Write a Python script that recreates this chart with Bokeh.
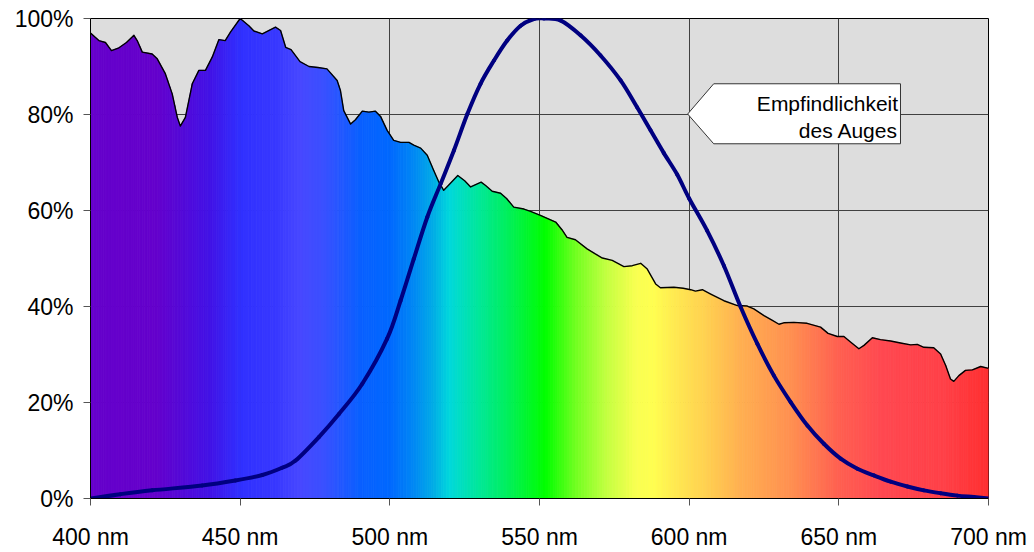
import numpy as np
from bokeh.plotting import figure
from bokeh.models import Range1d, FixedTicker, ColumnDataSource
from bokeh.core.properties import value
from bokeh.embed import file_html
from bokeh.resources import INLINE

# ---------------- data ----------------
spec_nm = [400, 402.8, 405, 407, 409.5, 412, 414.5, 415.6, 417.3, 420.6, 422.3, 425, 427.3,
           429, 430, 431.7, 434, 436.2, 438.4, 440.7, 442.9, 445, 446.8, 450, 452.9, 454.6,
           457.4, 461.8, 463.5, 465.2, 467, 470, 473, 476, 479, 482.4, 483.5, 484.6, 486.9,
           488.5, 490.8, 493, 495.2, 496.9, 499.1, 501.3, 503.6, 506.4, 508, 510.3, 512.5,
           514.7, 516.4, 518, 520, 522.7, 525, 527, 530.5, 532, 534.2, 537, 539, 541.4,
           544.8, 547, 550.3, 555.4, 557.5, 559.2, 562, 565.9, 568.5, 571, 574.3, 578.2,
           581, 583.8, 586, 588.8, 590.4, 594.9, 598, 600.5, 602.1, 604.4, 607.2, 611.6,
           616.1, 619.4, 621.6, 625, 627.8, 630, 631.6, 635, 639.4, 643.9, 646.4, 649.5,
           651.7, 653.9, 656.7, 658.4, 661.2, 663.9, 667.3, 670.6, 674, 676.2, 678.4, 681.7,
           684, 685.7, 687.3, 688.4, 690.1, 692.3, 694.6, 697.4, 700]
spec_pct = [97.0, 95.4, 95.0, 93.3, 93.9, 95.0, 96.5, 95.4, 93.0, 92.6, 91.6, 88.5, 84.3,
            79.4, 77.6, 79.4, 86.4, 89.2, 89.2, 92.0, 95.6, 95.4, 97.2, 100.0, 98.5, 97.4,
            96.8, 98.2, 97.5, 94.0, 93.5, 91.0, 90.0, 89.8, 89.5, 87.1, 85.0, 80.8, 78.0,
            78.9, 80.7, 80.5, 80.7, 79.6, 76.7, 74.6, 74.2, 74.2, 73.6, 73.0, 71.5,
            68.3, 65.9, 64.2, 65.5, 67.3, 66.2, 64.9, 65.9, 65.2, 64.0, 63.6, 62.5, 60.7,
            60.3, 59.8, 59.0, 57.6, 56.0, 54.4, 53.9, 52.0, 51.0, 50.1, 49.6, 48.3,
            48.5, 49.0, 47.8, 44.7, 43.9, 44.0, 43.8, 43.5, 43.2, 43.5, 42.6, 41.2,
            40.2, 40.1, 39.5, 38.1, 37.1, 36.3, 36.6, 36.7, 36.5, 35.7, 34.4, 33.75,
            33.75, 32.6, 31.2, 31.9, 33.5, 33.1, 32.8, 32.4, 32.0, 32.1, 31.5, 31.4,
            30.1, 27.7, 24.9, 24.4, 25.6, 26.7, 26.8, 27.5, 27.1]

eye_nm = [400, 410, 420.6, 437.3, 448.4, 457.4, 464, 468.5, 476.3, 483, 490.8, 499.1, 503.6,
          508, 512.5, 517, 521.4, 525.9, 530.3, 534.8, 539.2, 543.7, 548.1, 551.5, 557,
          563.7, 570.4, 577.1, 582.6, 587.1, 591.5, 596, 600, 606, 611.6, 617.2, 622.8,
          628.3, 633.9, 639.5, 645, 650.6, 656.2, 661.7, 667.3, 672.9, 678.4, 684, 689.6,
          695.1, 700]
eye_pct = [0, 0.9, 1.7, 2.7, 3.75, 4.9, 6.4, 7.9, 12.8, 17.6, 23.9, 33.3, 41.25,
           49.9, 58.6, 65.6, 72.5, 80.1, 86.4, 91.25, 95.4, 98.5, 99.9, 100, 99.6,
           96.5, 92.3, 87.1, 81.5, 76.7, 72.0, 67.5, 62.5, 55.8, 48.5, 39.9, 32.2,
           25.6, 20.1, 15.2, 11.4, 8.3, 6.2, 4.8, 3.5, 2.5, 1.7, 1.1, 0.6,
           0.3, 0]

x_ticks = [400, 450, 500, 550, 600, 650, 700]
x_tick_labels = ["400 nm", "450 nm", "500 nm", "550 nm", "600 nm", "650 nm", "700 nm"]
y_ticks = [0, 20, 40, 60, 80, 100]
y_tick_labels = ["0%", "20%", "40%", "60%", "80%", "100%"]

label_lines = ["Empfindlichkeit", "des Auges"]

# colour stops of the spectrum (wavelength -> colour)
stop_nm = [400, 422, 440, 450, 462, 470, 478, 490, 500, 508, 514, 520, 530, 540, 552,
           562, 572, 582, 588, 596, 606, 617, 634, 650, 665, 685, 700]
stop_col = ["#6600CC", "#6400CC", "#4212E6", "#3030FF", "#3838FF", "#4848FF", "#3A50FF",
            "#0A60FF", "#0068FF", "#0088F4", "#00A8E8", "#00D8DC", "#00E898", "#00F058",
            "#00FF00", "#70FF20", "#C0FF40", "#F8FF50", "#FFFF50", "#FFE850", "#FFD050",
            "#FFB050", "#FF9050", "#FF6050", "#FF4850", "#FF4048", "#FF3030"]

# ---------------- helpers ----------------
def hex_rgb(h):
    h = h.lstrip("#")
    return [int(h[i:i + 2], 16) for i in (0, 2, 4)]

stop_rgb = np.array([hex_rgb(c) for c in stop_col], dtype=float)

def colour_at(nm):
    r = np.interp(nm, stop_nm, stop_rgb[:, 0])
    g = np.interp(nm, stop_nm, stop_rgb[:, 1])
    b = np.interp(nm, stop_nm, stop_rgb[:, 2])
    return "#%02x%02x%02x" % (int(round(r)), int(round(g)), int(round(b)))

def smooth_segments(xv, yv):
    """Catmull-Rom control points so the line is drawn smoothed through the points."""
    xv = np.asarray(xv, float)
    yv = np.asarray(yv, float)
    n = len(xv)
    d = dict(x0=[], y0=[], x1=[], y1=[], cx0=[], cy0=[], cx1=[], cy1=[])
    for i in range(n - 1):
        im1 = max(i - 1, 0)
        ip2 = min(i + 2, n - 1)
        d["x0"].append(xv[i]); d["y0"].append(yv[i])
        d["x1"].append(xv[i + 1]); d["y1"].append(yv[i + 1])
        d["cx0"].append(xv[i] + (xv[i + 1] - xv[im1]) / 6.0)
        d["cy0"].append(yv[i] + (yv[i + 1] - yv[im1]) / 6.0)
        d["cx1"].append(xv[i + 1] - (xv[ip2] - xv[i]) / 6.0)
        d["cy1"].append(yv[i + 1] - (yv[ip2] - yv[i]) / 6.0)
    return d

FONT = "Liberation Sans"

p = figure(frame_width=898, frame_height=480, output_backend="svg", toolbar_location=None,
           x_range=Range1d(400, 700), y_range=Range1d(0, 100),
           min_border_left=90, min_border_right=46, min_border_top=18, min_border_bottom=54)
p.background_fill_color = "#DDDDDD"
p.border_fill_color = "white"
p.outline_line_color = "black"
p.outline_line_width = 1

# spectrum gradient: one trapezoid per segment, sub-split for a smooth colour ramp
xs, ys, cols = [], [], []
for i in range(len(spec_nm) - 1):
    x0, x1 = spec_nm[i], spec_nm[i + 1]
    y0, y1 = spec_pct[i], spec_pct[i + 1]
    n = max(1, int(np.ceil((x1 - x0) / 1.0)))
    for k in range(n):
        a = x0 + (x1 - x0) * k / n
        b = x0 + (x1 - x0) * (k + 1) / n
        ya = y0 + (y1 - y0) * k / n
        yb = y0 + (y1 - y0) * (k + 1) / n
        xs.append([a, a, b, b])
        ys.append([0, ya, yb, 0])
        cols.append(colour_at((a + b) / 2))

src = ColumnDataSource(dict(xs=xs, ys=ys, c=cols))
p.patches("xs", "ys", source=src, fill_color="c", line_color="c", line_width=0.8)

# spectrum outline
p.line(spec_nm, spec_pct, line_color="black", line_width=1.4, line_join="round")

# eye sensitivity curve (smoothed line through the read points)
eye_src = ColumnDataSource(smooth_segments(eye_nm, eye_pct))
p.bezier(x0="x0", y0="y0", x1="x1", y1="y1", cx0="cx0", cy0="cy0", cx1="cx1", cy1="cy1",
         source=eye_src, line_color="#000080", line_width=4, line_cap="round")

# callout box
tip_x, tip_y = 599.5, 80.1
box_l, box_r, box_t, box_b = 608.2, 670.6, 86.4, 73.9
p.patch([tip_x, box_l, box_r, box_r, box_l], [tip_y, box_t, box_t, box_b, box_b],
        fill_color="white", line_color="#333333", line_width=1)
p.text(x=[669.8, 669.8], y=[82.2, 76.7], text=label_lines, text_align="right",
       text_baseline="alphabetic", text_font=value(FONT), text_font_size="21px",
       text_color="black")

# axes
p.xaxis.ticker = FixedTicker(ticks=x_ticks)
p.yaxis.ticker = FixedTicker(ticks=y_ticks)
p.xaxis.major_label_overrides = dict(zip(x_ticks, x_tick_labels))
p.yaxis.major_label_overrides = dict(zip(y_ticks, y_tick_labels))
for ax in (p.xaxis[0], p.yaxis[0]):
    ax.axis_line_color = "black"
    ax.axis_line_width = 1
    ax.major_tick_in = 0
    ax.major_tick_out = 7
    ax.major_tick_line_color = "#555555"
    ax.minor_tick_line_color = None
    ax.major_label_text_font = FONT
    ax.major_label_text_font_size = "23px"
    ax.major_label_text_color = "black"
p.xaxis.major_label_standoff = 18
p.yaxis.major_label_standoff = 10

p.xgrid.ticker = FixedTicker(ticks=x_ticks)
p.ygrid.ticker = FixedTicker(ticks=y_ticks)
p.grid.grid_line_color = "#404040"
p.grid.grid_line_width = 1

open("out.html", "w").write(file_html(p, INLINE))
